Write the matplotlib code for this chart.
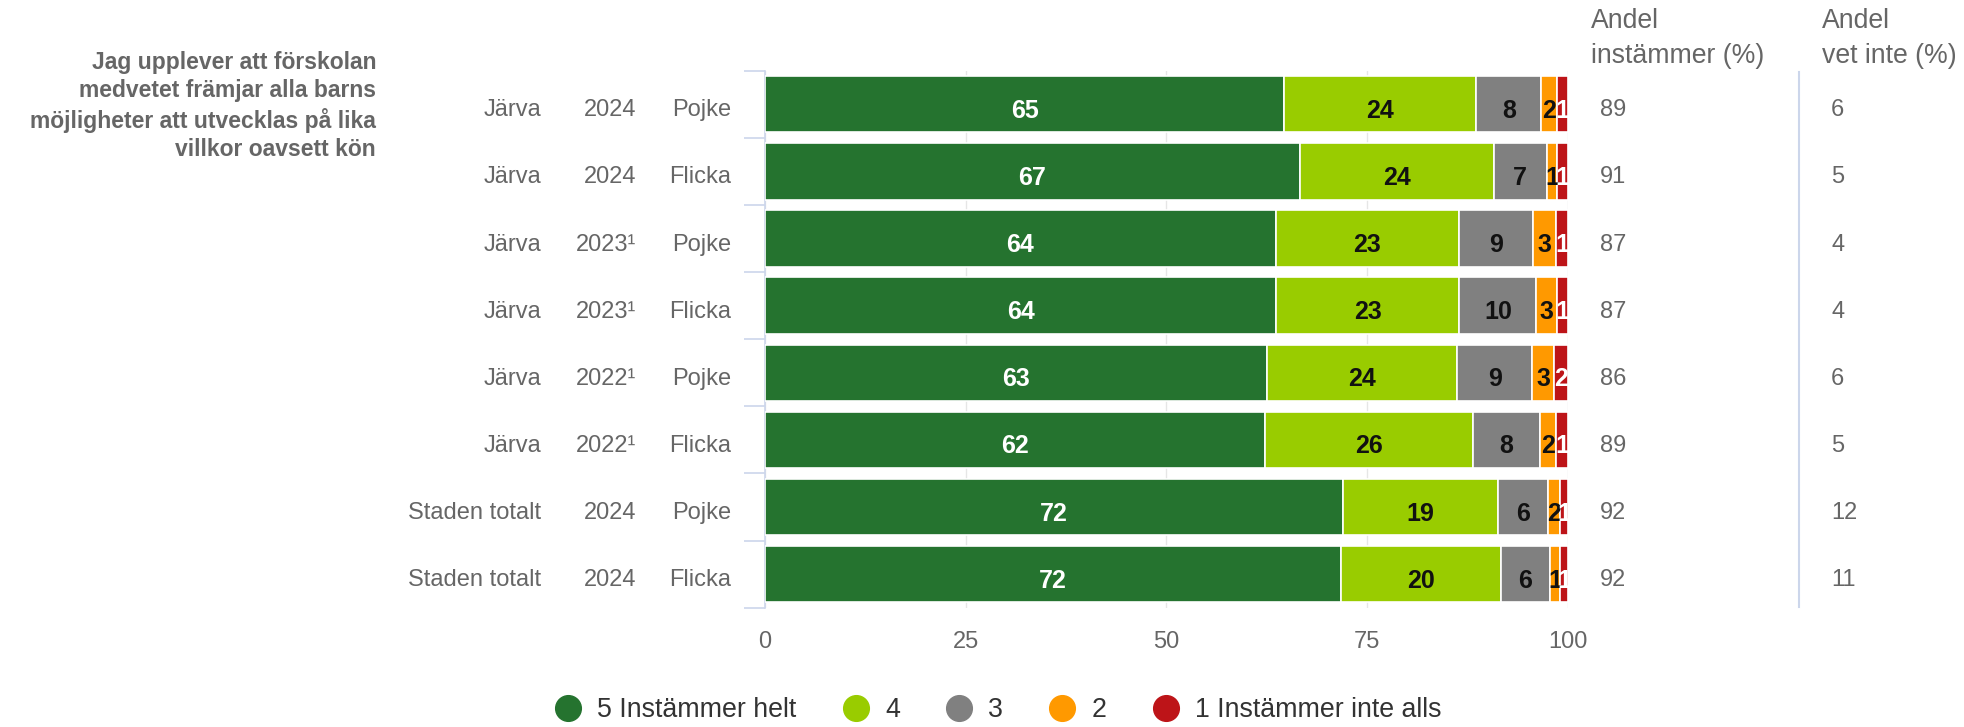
import numpy as np
import matplotlib.pyplot as plt
import matplotlib.transforms as mtransforms
from matplotlib.lines import Line2D

plt.rcParams['font.family'] = ['Liberation Sans', 'DejaVu Sans']

# data (shares in %; labels are rounded)
regions = ["Järva", "Järva", "Järva", "Järva", "Järva", "Järva", "Staden totalt", "Staden totalt"]
years = ["2024", "2024", "2023¹", "2023¹", "2022¹", "2022¹", "2024", "2024"]
genders = ["Pojke", "Flicka", "Pojke", "Flicka", "Pojke", "Flicka", "Pojke", "Flicka"]
s5 = [64.7, 66.6, 63.6, 63.7, 62.6, 62.3, 72.0, 71.8]
s4 = [23.9, 24.2, 22.8, 22.8, 23.6, 25.9, 19.3, 19.9]
s3 = [8.1, 6.6, 9.3, 9.6, 9.4, 8.3, 6.2, 6.1]
s2 = [2.0, 1.3, 2.9, 2.6, 2.7, 2.1, 1.6, 1.3]
s1 = [1.3, 1.3, 1.4, 1.3, 1.7, 1.4, 0.9, 0.9]
andel_instammer = [89, 91, 87, 87, 86, 89, 92, 92]
andel_vet_inte = [6, 5, 4, 4, 6, 5, 12, 11]
series_names = ["5 Instämmer helt", "4", "3", "2", "1 Instämmer inte alls"]
colors = ["#25732f", "#99cc00", "#808080", "#ff9900", "#bd1418"]
label_colors = ["white", "#111111", "#111111", "#111111", "white"]
title = "Jag upplever att förskolan\nmedvetet främjar alla barns\nmöjligheter att utvecklas på lika\nvillkor oavsett kön"

W, H = 1964, 727
def fx(p): return p / W
def fy(p): return 1 - p / H

fig = plt.figure(figsize=(W / 100, H / 100), dpi=100)
L, R, T, B = 765, 1567.7, 70.7, 607.7
ax = fig.add_axes([fx(L), fy(B), fx(R) - fx(L), fy(T) - fy(B)])

series = np.array([s5, s4, s3, s2, s1])
pct = series / series.sum(axis=0) * 100
y = np.arange(len(regions))
left = np.zeros(len(regions))
lab_tr = mtransforms.offset_copy(ax.transData, fig=fig, y=-13.5, units='dots')
for i in range(len(series)):
    ax.barh(y, pct[i], left=left, height=0.84, color=colors[i], edgecolor='white',
            linewidth=1.2, zorder=3)
    for j in range(len(y)):
        ax.text(left[j] + pct[i][j] / 2, y[j], f"{series[i][j]:.0f}", transform=lab_tr,
                ha='center', va='baseline', fontsize=18, fontweight='bold',
                color=label_colors[i], zorder=4)
    left += pct[i]

ax.set_xlim(0, 100)
ax.set_ylim(len(y) - 0.5, -0.5)
ax.set_xticks([0, 25, 50, 75, 100])
ax.grid(axis='x', color='#e6e6e6', linewidth=1, zorder=0)
ax.tick_params(axis='x', length=0, pad=17, labelsize=17, labelcolor='#666666')
ax.set_yticks([])
ax.set_yticks(np.arange(-0.5, len(y)), minor=True)
ax.tick_params(axis='y', which='minor', length=15, color='#ccd6eb', width=1.2)
for s in ['top', 'right', 'bottom']:
    ax.spines[s].set_visible(False)
ax.spines['left'].set_color('#ccd6eb')
ax.spines['left'].set_linewidth(1.2)

tr = mtransforms.blended_transform_factory(fig.transFigure, ax.transData)
tr = mtransforms.offset_copy(tr, fig=fig, y=-12, units='dots')
kw = dict(transform=tr, va='baseline', fontsize=17, color='#666666')
for j in range(len(y)):
    fig.text(fx(541), y[j], regions[j], ha='right', **kw)
    fig.text(fx(636), y[j], years[j], ha='right', **kw)
    fig.text(fx(731), y[j], genders[j], ha='right', **kw)
    fig.text(fx(1600), y[j], str(andel_instammer[j]), ha='left', **kw)
    fig.text(fx(1831), y[j], str(andel_vet_inte[j]), ha='left', **kw)

fig.text(fx(1591), fy(38.5), "Andel\ninstämmer (%)", ha='left', va='center', fontsize=19.2,
         color='#666666', linespacing=1.42)
fig.text(fx(1822), fy(38.5), "Andel\nvet inte (%)", ha='left', va='center', fontsize=19.2,
         color='#666666', linespacing=1.42)
fig.add_artist(Line2D([fx(1799), fx(1799)], [fy(71.7), fy(607)], color='#ccd6eb', linewidth=1.5,
                      transform=fig.transFigure))

fig.text(fx(376), fy(106), title, ha='right', va='center', multialignment='right',
         fontsize=16.5, fontweight='bold', color='#666666', linespacing=1.27)

handles = [Line2D([], [], marker='o', linestyle='none', markersize=18.5, color=c) for c in colors]
fig.legend(handles, series_names, loc='center', bbox_to_anchor=(fx(998), fy(710)), ncol=5,
           frameon=False, fontsize=19.3, handlelength=1.0, handletextpad=0.6, columnspacing=1.7,
           borderpad=0, labelcolor='#333333')

fig.savefig("out.png", dpi=100)
